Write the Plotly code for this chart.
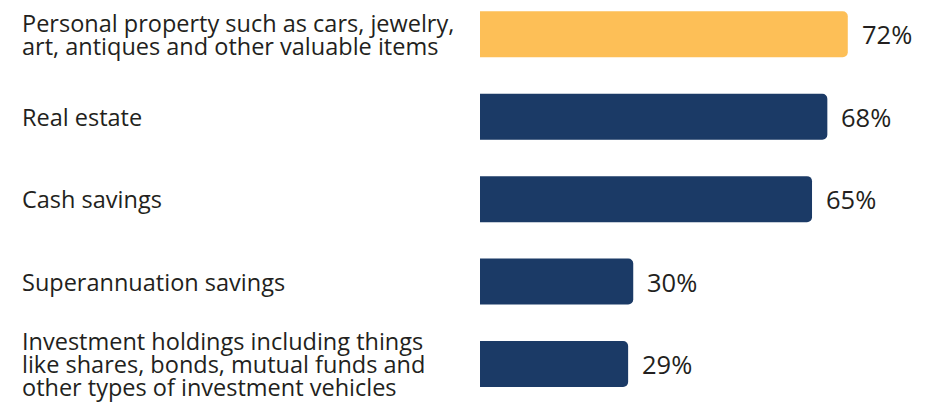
import plotly.graph_objects as go

# Survey categories (one list of text lines per category) and shares in percent
category_lines = [
    ["Personal property such as cars, jewelry,", "art, antiques and other valuable items"],
    ["Real estate"],
    ["Cash savings"],
    ["Superannuation savings"],
    ["Investment holdings including things", "like shares, bonds, mutual funds and",
     "other types of investment vehicles"],
]
values = [72, 68, 65, 30, 29]
bar_colors = ["#FDBF57", "#1B3A66", "#1B3A66", "#1B3A66", "#1B3A66"]

W, H = 935, 403
LEFT = 480
PX_PER_UNIT = 5.108
FONT = "Open Sans"
TEXT_COLOR = "#231F20"

positions = list(range(len(values)))

fig = go.Figure(
    go.Bar(
        x=values,
        y=positions,
        orientation="h",
        marker=dict(color=bar_colors, line=dict(width=0)),
        width=0.558,
        hoverinfo="skip",
    )
)

annotations = []
# Category labels, left aligned, one annotation per line so line spacing stays tight
line_gap = 22.7
for pos, lines in zip(positions, category_lines):
    n = len(lines)
    for i, line in enumerate(lines):
        annotations.append(dict(
            x=(20 - LEFT) / (W - LEFT), xref="paper", xanchor="left",
            y=pos, yref="y", yanchor="middle",
            yshift=-(i - (n - 1) / 2) * line_gap,
            text=line, showarrow=False,
            font=dict(family=FONT, size=23.5, color=TEXT_COLOR),
        ))

# Value labels next to the bar ends
for pos, v in zip(positions, values):
    annotations.append(dict(
        x=v, xref="x", xanchor="left", xshift=12,
        y=pos, yref="y", yanchor="middle",
        text=f"{v}%", showarrow=False,
        font=dict(family=FONT, size=25.5, color=TEXT_COLOR),
    ))

fig.update_layout(
    width=W, height=H,
    margin=dict(l=LEFT, r=0, t=0, b=0),
    paper_bgcolor="white", plot_bgcolor="white",
    barcornerradius=5,
    showlegend=False,
    annotations=annotations,
    xaxis=dict(range=[0, (W - LEFT) / PX_PER_UNIT], visible=False, fixedrange=True),
    yaxis=dict(range=[4.473, -0.416], visible=False, fixedrange=True),
)

fig.write_html("out.html")
